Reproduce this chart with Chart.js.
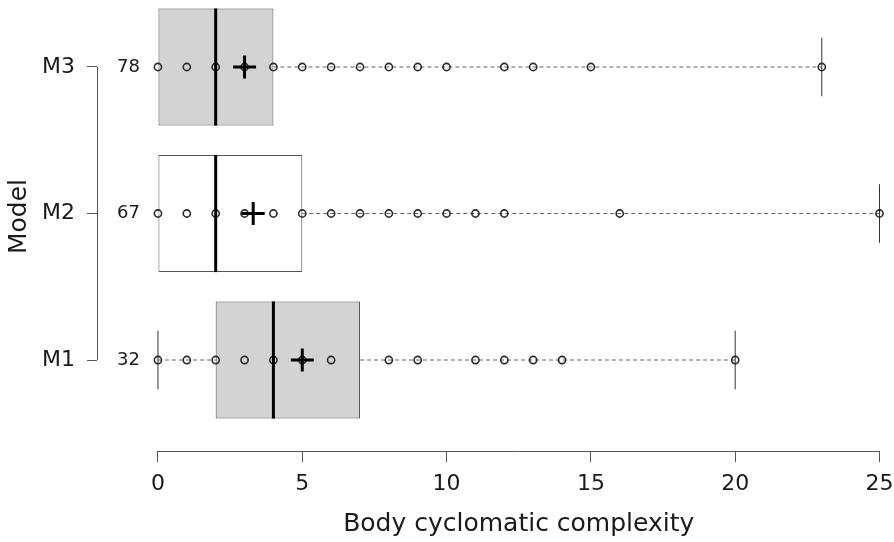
<!DOCTYPE html>
<html>
<head>
<meta charset="utf-8">
<script src="https://cdn.jsdelivr.net/npm/chart.js@4.4.0/dist/chart.umd.min.js"></script>
<style>
  html, body { margin: 0; padding: 0; background: #fff; }
  canvas { display: block; }
</style>
</head>
<body>
<canvas id="chart" width="894" height="542"></canvas>
<script>
// one entry per model, bottom to top
const models = ['M1', 'M2', 'M3'];
const rowPos = [1, 2, 3];
const counts = [32, 67, 78];
const q1 = [2, 0, 0];
const medians = [4, 2, 2];
const q3 = [7, 5, 4];
const whiskerLo = [0, 0, 0];
const whiskerHi = [20, 25, 23];
const means = [5.0, 3.3, 3.0];
const boxFills = ['#d3d3d3', '#ffffff', '#d3d3d3'];

// observed distinct values drawn on each row
const pointsM1 = [0, 1, 2, 3, 4, 5, 6, 8, 9, 11, 12, 13, 14, 20];
const pointsM2 = [0, 1, 2, 3, 4, 5, 6, 7, 8, 9, 10, 11, 12, 16, 25];
const pointsM3 = [0, 1, 2, 3, 4, 5, 6, 7, 8, 9, 10, 12, 13, 15, 23];
const rowPoints = [pointsM1, pointsM2, pointsM3];

const xTicks = [0, 5, 10, 15, 20, 25];
const xTitle = 'Body cyclomatic complexity';
const yTitle = 'Model';

// box height in row units (like R's boxwex) and staple width
const boxWex = 0.8;
const stapleWex = 0.4;

const FONT = '"DejaVu Sans", "Liberation Sans", sans-serif';
const INK = '#1a1a1a';
const LINE = '#555555';

const datasets = [];

function segment(pts, color, width, dash, order) {
  datasets.push({
    type: 'line',
    data: pts,
    borderColor: color,
    borderWidth: width,
    borderDash: dash,
    pointRadius: 0,
    pointHoverRadius: 0,
    fill: false,
    clip: false,
    order: order
  });
}

datasets.push({
  type: 'bar',
  indexAxis: 'y',
  data: rowPos.map((y, i) => ({ x: [q1[i], q3[i]], y: y })),
  backgroundColor: boxFills,
  borderColor: LINE,
  borderWidth: 1,
  borderSkipped: false,
  categoryPercentage: boxWex,
  barPercentage: 1,
  clip: false,
  order: 9
});

rowPos.forEach((y, i) => {
  // dashed whiskers and the staples at their ends
  if (whiskerLo[i] < q1[i]) {
    segment([{ x: whiskerLo[i], y: y }, { x: q1[i], y: y }], '#666666', 1, [4, 3], 8);
    segment([{ x: whiskerLo[i], y: y - stapleWex / 2 }, { x: whiskerLo[i], y: y + stapleWex / 2 }], '#333333', 1, [], 7);
  }
  if (whiskerHi[i] > q3[i]) {
    segment([{ x: q3[i], y: y }, { x: whiskerHi[i], y: y }], '#666666', 1, [4, 3], 8);
    segment([{ x: whiskerHi[i], y: y - stapleWex / 2 }, { x: whiskerHi[i], y: y + stapleWex / 2 }], '#333333', 1, [], 7);
  }
  // median bar
  segment([{ x: medians[i], y: y - boxWex / 2 }, { x: medians[i], y: y + boxWex / 2 }], '#000000', 3, [], 2);
});

rowPoints.forEach((pts, i) => {
  datasets.push({
    type: 'scatter',
    data: pts.map(v => ({ x: v, y: rowPos[i] })),
    pointStyle: 'circle',
    pointRadius: 3.6,
    pointHoverRadius: 3.6,
    pointBackgroundColor: 'rgba(0,0,0,0)',
    pointBorderColor: '#2a2a2a',
    pointBorderWidth: 1.6,
    clip: false,
    order: 3
  });
});

datasets.push({
  type: 'scatter',
  data: rowPos.map((y, i) => ({ x: means[i], y: y })),
  pointStyle: 'cross',
  pointRadius: 11.5,
  pointHoverRadius: 11.5,
  pointBorderColor: '#000000',
  pointBorderWidth: 3,
  clip: false,
  order: 1
});

// axis line from 0 to 25, the bracket joining M1..M3, counts and the titles
// (titles centred on the drawn axes, the way R places them)
const extras = {
  id: 'extras',
  afterDraw(chart) {
    const { ctx, chartArea } = chart;
    const xs = chart.scales.x;
    const ys = chart.scales.y;
    const x0 = xs.getPixelForValue(xTicks[0]);
    const x1 = xs.getPixelForValue(xTicks[xTicks.length - 1]);
    ctx.save();
    ctx.strokeStyle = LINE;
    ctx.lineWidth = 1;
    ctx.beginPath();
    const yb = Math.round(chartArea.bottom) + 0.5;
    ctx.moveTo(x0, yb);
    ctx.lineTo(x1, yb);
    const xl = Math.round(chartArea.left) + 0.5;
    ctx.moveTo(xl, ys.getPixelForValue(rowPos[0]));
    ctx.lineTo(xl, ys.getPixelForValue(rowPos[rowPos.length - 1]));
    ctx.stroke();

    ctx.fillStyle = INK;
    ctx.font = '18px ' + FONT;
    ctx.textAlign = 'right';
    ctx.textBaseline = 'middle';
    rowPos.forEach((y, i) => {
      ctx.fillText(String(counts[i]), x0 - 18, ys.getPixelForValue(y));
    });

    ctx.font = '25px ' + FONT;
    ctx.textAlign = 'center';
    ctx.fillText(xTitle, (x0 + x1) / 2, chartArea.bottom + 73);

    ctx.translate(chartArea.left - 78, ys.getPixelForValue(rowPos[1]) + 3);
    ctx.rotate(-Math.PI / 2);
    ctx.fillText(yTitle, 0, 0);
    ctx.restore();
  }
};

new Chart(document.getElementById('chart'), {
  type: 'bar',
  data: { datasets: datasets },
  options: {
    responsive: false,
    animation: false,
    layout: { padding: { top: 0, right: 0, bottom: 0, left: 0 } },
    plugins: {
      legend: { display: false },
      tooltip: { enabled: false }
    },
    scales: {
      x: {
        type: 'linear',
        min: -2.112,
        max: 25,
        offset: false,
        afterBuildTicks: s => { s.ticks = xTicks.map(v => ({ value: v })); },
        afterFit: s => { s.height = 91; s.paddingRight = 14; },
        ticks: {
          color: INK,
          font: { family: FONT, size: 22 },
          padding: 9,
          maxRotation: 0,
          autoSkip: false
        },
        grid: {
          offset: false,
          drawOnChartArea: false,
          drawTicks: true,
          tickLength: 11,
          color: LINE
        },
        border: { display: false },
        title: { display: false }
      },
      y: {
        type: 'linear',
        min: 0.379,
        max: 3.348,
        offset: false,
        afterBuildTicks: s => { s.ticks = rowPos.map(v => ({ value: v })); },
        afterFit: s => { s.width = 97; s.paddingTop = 16; },
        ticks: {
          color: INK,
          font: { family: FONT, size: 22 },
          padding: 12,
          callback: v => models[rowPos.indexOf(v)]
        },
        grid: {
          offset: false,
          drawOnChartArea: false,
          drawTicks: true,
          tickLength: 10,
          color: LINE
        },
        border: { display: false },
        title: { display: false }
      }
    }
  },
  plugins: [extras]
});
</script>
</body>
</html>
